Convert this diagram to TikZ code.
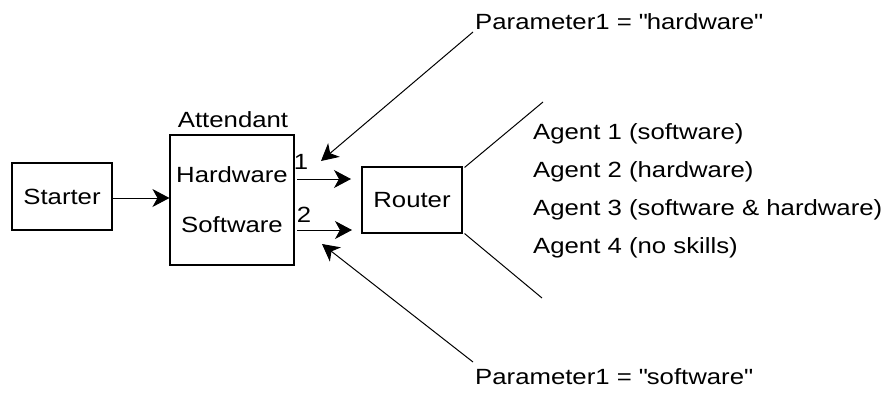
\documentclass[tikz,border=0pt]{standalone}
\usepackage{fontspec}
\setmainfont{Liberation Sans}[FakeStretch=1.17]
\usetikzlibrary{arrows.meta}
\begin{document}
\begin{tikzpicture}[x=1pt,y=-1pt,
  every node/.style={font=\fontsize{22}{26}\selectfont, inner sep=0pt},
  box/.style={draw, line width=1.1pt},
  conn/.style={line width=1pt},
  arr/.style={conn, -{Stealth[length=17pt,width=18pt,inset=5pt]}}]
\useasboundingbox (0,0) rectangle (887,394);

% blocks
\node[box, minimum width=100pt, minimum height=67pt] (starter) at (62,196.5) {Starter};
\node[box, minimum width=124pt, minimum height=130pt] (att) at (232,200) {};
\node[box, minimum width=100pt, minimum height=66pt] (router) at (412,200) {Router};

% texts inside and around the attendant
\node (attlabel) at (233,120) {Attendant};
\node (hw) at (232,175) {Hardware};
\node (sw) at (232,225) {Software};
\node (n1) at (301,162) {1};
\node (n2) at (304,215) {2};

% outputs of the attendant
\coordinate (o1a) at (297,179);
\coordinate (o1b) at (351,179);
\coordinate (o2a) at (297,230);
\coordinate (o2b) at (352,230);
\draw[arr] (starter.east |- 0,198) -- (att.west |- 0,198);
\draw[arr] (o1a) -- (o1b);
\draw[arr] (o2a) -- (o2b);

% parameter labels
\node[anchor=west] (ph) at (475,22) {Parameter1 = \textquotedbl hardware\textquotedbl};
\node[anchor=west] (ps) at (475,377) {Parameter1 = \textquotedbl software\textquotedbl};
\coordinate (phend) at (473,32);
\coordinate (psend) at (473,362);
\coordinate (phtip) at (321,161);
\coordinate (pstip) at (322,244);
\draw[arr] (phend) -- (phtip);
\draw[arr] (psend) -- (pstip);

% fan from the router to the agents
\coordinate (fanup) at (543,102);
\coordinate (fandown) at (542,298);
\draw[conn] (router.north east) ++(2,1) -- (fanup);
\draw[conn] (router.south east) ++(2,0) -- (fandown);

% agents
\node[anchor=west] (a1) at (533,134) {Agent 1 (software)};
\node[anchor=west] (a2) at (533,172) {Agent 2 (hardware)};
\node[anchor=west] (a3) at (533,210) {Agent 3 (software \& hardware)};
\node[anchor=west] (a4) at (533,248) {Agent 4 (no skills)};
\end{tikzpicture}
\end{document}
